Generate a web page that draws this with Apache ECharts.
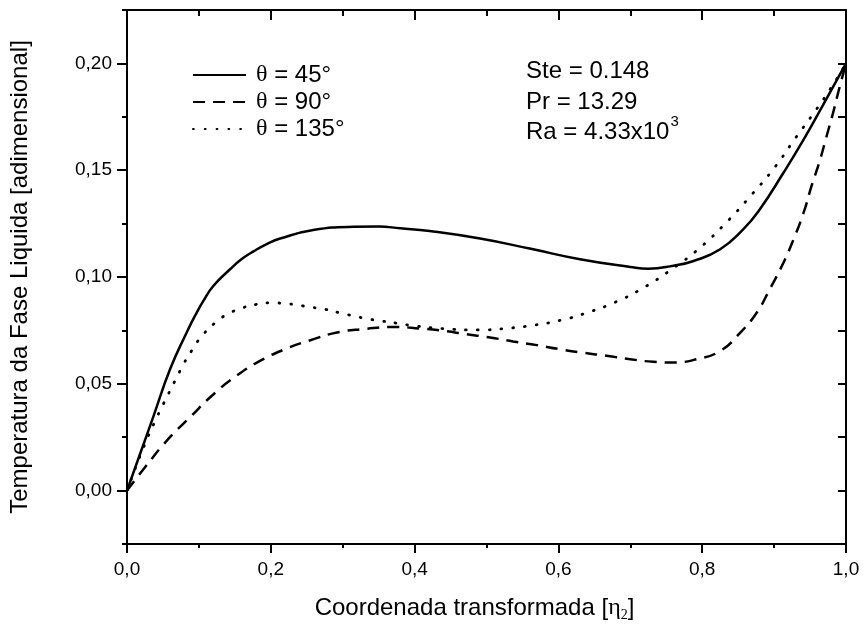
<!DOCTYPE html>
<html>
<head>
<meta charset="utf-8">
<script src="https://cdn.jsdelivr.net/npm/echarts@6/dist/echarts.min.js"></script>
<style>
  html, body { margin: 0; padding: 0; background: #fff; }
  #chart { width: 864px; height: 627px; }
</style>
</head>
<body>
<div id="chart"></div>
<script>
// Liquid-phase temperature profiles along the transformed coordinate
const seriesNames = ['θ = 45°', 'θ = 90°', 'θ = 135°'];

const eta45 = [0, 0.018, 0.037, 0.06, 0.083, 0.095, 0.106, 0.12, 0.143, 0.16, 0.176, 0.195, 0.213, 0.259, 0.315, 0.35, 0.38, 0.421, 0.491, 0.56, 0.63, 0.70, 0.725, 0.76, 0.788, 0.825, 0.857, 0.88, 0.913, 0.941, 0.968, 1.0];
const temp45 = [0, 0.017, 0.035, 0.0569, 0.074, 0.0821, 0.0887, 0.0958, 0.1035, 0.1085, 0.1120, 0.1155, 0.118, 0.122, 0.1235, 0.1236, 0.1228, 0.1215, 0.118, 0.1133, 0.1083, 0.1047, 0.1039, 0.1053, 0.1075, 0.113, 0.1223, 0.1316, 0.1488, 0.1643, 0.1805, 0.2];

const eta90 = [0, 0.025, 0.0575, 0.0876, 0.118, 0.15, 0.185, 0.222, 0.255, 0.292, 0.329, 0.372, 0.407, 0.44, 0.472, 0.505, 0.537, 0.57, 0.602, 0.635, 0.667, 0.70, 0.732, 0.76, 0.792, 0.825, 0.853, 0.876, 0.894, 0.913, 0.927, 0.941, 0.952, 0.964, 0.973, 0.982, 0.989, 1.0];
const temp90 = [0, 0.0109, 0.0242, 0.0343, 0.0444, 0.0532, 0.0607, 0.0665, 0.0704, 0.074, 0.0756, 0.0766, 0.0759, 0.0748, 0.0732, 0.0717, 0.0698, 0.0681, 0.0662, 0.0645, 0.0631, 0.0615, 0.0603, 0.06, 0.0615, 0.0654, 0.074, 0.0834, 0.0943, 0.1067, 0.1176, 0.1301, 0.1425, 0.155, 0.1659, 0.1768, 0.1862, 0.2];

const eta135 = [0, 0.0227, 0.039, 0.0505, 0.0668, 0.0783, 0.0899, 0.104, 0.1224, 0.141, 0.162, 0.18, 0.199, 0.217, 0.238, 0.257, 0.275, 0.296, 0.315, 0.333, 0.354, 0.375, 0.394, 0.44, 0.489, 0.526, 0.565, 0.605, 0.641, 0.679, 0.718, 0.757, 0.797, 0.834, 0.869, 0.901, 0.929, 0.957, 0.982, 1.0];
const temp135 = [0, 0.0200, 0.0325, 0.0405, 0.0514, 0.0590, 0.0655, 0.0723, 0.0785, 0.0828, 0.0857, 0.0872, 0.0879, 0.0877, 0.0868, 0.0858, 0.0849, 0.0832, 0.0818, 0.0805, 0.0794, 0.0784, 0.0774, 0.0758, 0.0752, 0.0759, 0.0774, 0.0799, 0.0834, 0.0882, 0.0949, 0.1035, 0.1137, 0.1257, 0.1386, 0.1514, 0.1647, 0.1776, 0.19, 0.2];

const yMajorTicks = [0, 0.05, 0.10, 0.15, 0.20];

const FONT = 'Liberation Sans, Arial, sans-serif';
const SERIF = 'Liberation Serif, Times New Roman, serif';
const INK = '#000';

const zip = (xs, ys) => xs.map((x, i) => [x, ys[i]]);
const commaFmt = d => v => v.toFixed(d).replace('.', ',');

const chart = echarts.init(document.getElementById('chart'), null, { renderer: 'canvas' });

const axisLineStyle = { color: INK, width: 2 };

chart.setOption({
  backgroundColor: '#fff',
  animation: false,
  grid: { left: 127, right: 18, top: 10, bottom: 81, containLabel: false },
  legend: {
    orient: 'vertical',
    left: 187,
    top: 58,
    itemWidth: 53,
    itemHeight: 20,
    itemGap: 3,
    data: seriesNames,
    itemStyle: { opacity: 0 },
    formatter: name => '{t|θ}' + name.slice(1),
    textStyle: {
      fontFamily: FONT, fontSize: 24, color: INK, lineHeight: 24,
      padding: [0, 0, 0, 5],
      rich: { t: { fontFamily: SERIF, fontSize: 24, color: INK } }
    }
  },
  xAxis: [
    {
      type: 'value', position: 'bottom', min: 0, max: 1, interval: 0.2,
      name: 'Coordenada transformada [{n|η}{s|2}]',
      nameLocation: 'middle', nameGap: 50,
      nameTextStyle: {
        fontFamily: FONT, fontSize: 24, color: INK, padding: [0, 24, 0, 0],
        rich: {
          n: { fontFamily: SERIF, fontSize: 24, color: INK },
          s: { fontFamily: SERIF, fontSize: 14, color: INK, padding: [14, 0, 0, 0] }
        }
      },
      axisLine: { show: true, onZero: false, lineStyle: axisLineStyle },
      axisTick: { show: true, length: 9, lineStyle: axisLineStyle },
      minorTick: { show: true, splitNumber: 2, length: 4, lineStyle: axisLineStyle },
      axisLabel: { formatter: commaFmt(1), fontFamily: FONT, fontSize: 19, color: INK, margin: 16 },
      splitLine: { show: false }
    },
    {
      type: 'value', position: 'top', min: 0, max: 1, interval: 0.2,
      axisLine: { show: true, onZero: false, lineStyle: axisLineStyle },
      axisTick: { show: true, inside: true, length: 10, lineStyle: axisLineStyle },
      minorTick: { show: true, splitNumber: 2, length: 6, lineStyle: axisLineStyle },
      axisLabel: { show: false },
      splitLine: { show: false }
    }
  ],
  yAxis: [
    {
      type: 'value', position: 'left', min: -0.025, max: 0.225,
      name: 'Temperatura da Fase Liquida [adimensional]',
      nameLocation: 'middle', nameGap: 95,
      nameTextStyle: { fontFamily: FONT, fontSize: 24, color: INK },
      axisLine: { show: true, onZero: false, lineStyle: axisLineStyle },
      axisTick: { show: true, length: 10, customValues: yMajorTicks, lineStyle: axisLineStyle },
      axisLabel: { customValues: yMajorTicks, formatter: commaFmt(2), fontFamily: FONT, fontSize: 19, color: INK, margin: 15 },
      splitLine: { show: false }
    },
    {
      type: 'value', position: 'left', min: -0.025, max: 0.225, interval: 0.025,
      axisLine: { show: false, onZero: false },
      axisTick: { show: true, length: 5, lineStyle: axisLineStyle },
      axisLabel: { show: false },
      splitLine: { show: false }
    },
    {
      type: 'value', position: 'right', min: -0.025, max: 0.225, interval: 0.025,
      axisLine: { show: true, onZero: false, lineStyle: axisLineStyle },
      axisTick: { show: true, inside: true, length: 8, lineStyle: axisLineStyle },
      axisLabel: { show: false },
      splitLine: { show: false }
    }
  ],
  graphic: [
    {
      type: 'text', left: 526, top: 59,
      style: { text: 'Ste = 0.148', fontFamily: FONT, fontSize: 24, fill: INK }
    },
    {
      type: 'text', left: 526, top: 90,
      style: { text: 'Pr = 13.29', fontFamily: FONT, fontSize: 24, fill: INK }
    },
    {
      type: 'text', left: 526, top: 114,
      style: {
        text: '{a|Ra = 4.33x10}{s|3}',
        rich: {
          a: { fontFamily: FONT, fontSize: 24, fill: INK },
          s: { fontFamily: FONT, fontSize: 15, fill: INK, padding: [0, 0, 22, 1] }
        }
      }
    }
  ],
  series: [
    {
      name: seriesNames[0], type: 'line', xAxisIndex: 0, yAxisIndex: 0,
      data: zip(eta45, temp45), smooth: 0.5, showSymbol: false, symbol: 'none',
      lineStyle: { color: INK, width: 2.5, type: 'solid' },
      itemStyle: { color: INK }
    },
    {
      name: seriesNames[1], type: 'line', xAxisIndex: 0, yAxisIndex: 0,
      data: zip(eta90, temp90), smooth: 0.5, showSymbol: false, symbol: 'none',
      lineStyle: { color: INK, width: 2.5, type: [12, 8] },
      itemStyle: { color: INK }
    },
    {
      name: seriesNames[2], type: 'line', xAxisIndex: 0, yAxisIndex: 0,
      data: zip(eta135, temp135), smooth: 0.5, showSymbol: false, symbol: 'none',
      lineStyle: { color: INK, width: 2.8, type: [0.8, 11], cap: 'round' },
      itemStyle: { color: INK }
    }
  ]
});
</script>
</body>
</html>
